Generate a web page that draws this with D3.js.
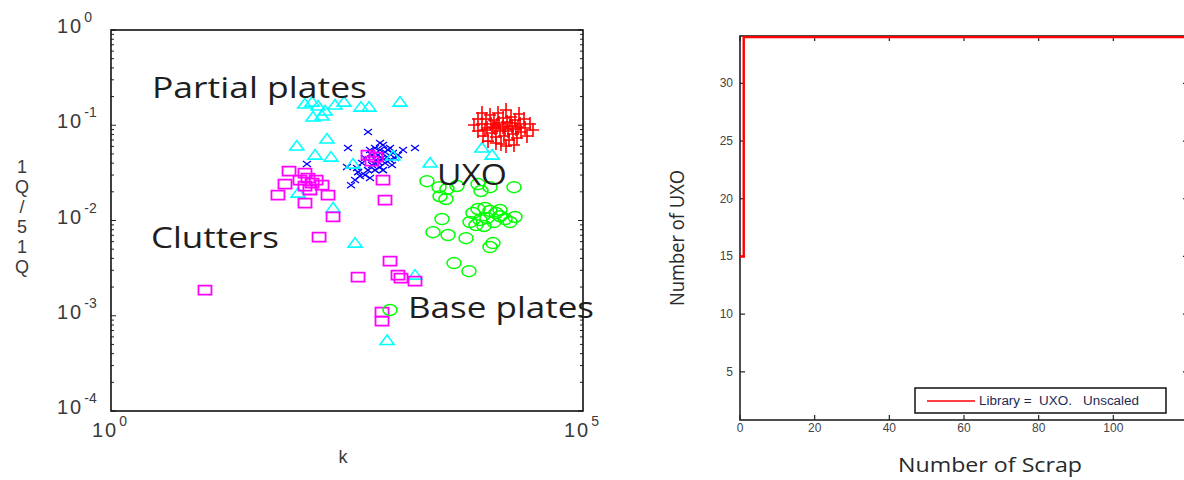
<!DOCTYPE html>
<html>
<head>
<meta charset="utf-8">
<script src="https://cdn.jsdelivr.net/npm/d3@7"></script>
<style>
  body { margin: 0; background: #fff; }
  svg { display: block; }
  text { white-space: pre; }
</style>
</head>
<body>
<svg id="chart" width="1184" height="480"></svg>
<script>
// ---------- left panel: decay rate k vs. Q ratio, one array of [k, Q] per class ----------
const partialPlates = [
  [113, 0.167], [135, 0.175], [156, 0.159], [185, 0.141], [138, 0.122], [172, 0.125],
  [236, 0.163], [294, 0.175], [445, 0.155], [541, 0.155], [1152, 0.175], [93, 0.0605],
  [194, 0.0716], [145, 0.0486], [214, 0.0463], [366, 0.0391], [971, 0.0475], [2400, 0.0401],
  [8500, 0.0576], [10900, 0.0486], [96, 0.0194], [225, 0.0135], [385, 0.00579],
  [1660, 0.00267], [840, 0.00055]
];
const crossClass = [
  [528, 0.0849], [324, 0.0576], [119, 0.0391], [316, 0.0364], [385, 0.0266], [349, 0.0235],
  [1660, 0.0576], [1240, 0.0549], [903, 0.0576], [707, 0.065], [434, 0.0293], [414, 0.0322],
  [491, 0.0452], [554, 0.0549], [582, 0.0382], [626, 0.0576], [626, 0.0338], [673, 0.0486],
  [673, 0.0411], [707, 0.0549], [707, 0.0364], [743, 0.0452], [761, 0.062], [799, 0.0523],
  [799, 0.0401], [839, 0.0463], [903, 0.0431], [971, 0.0511], [1020, 0.0452], [1097, 0.0486],
  [528, 0.0338], [456, 0.0401], [582, 0.0486], [641, 0.0431], [761, 0.0338], [859, 0.0549],
  [491, 0.03], [403, 0.0355], [948, 0.0382], [554, 0.0279]
];
const clutters = [
  [9.9, 0.00186], [58.7, 0.0185], [69.7, 0.0241], [76.9, 0.033], [113.5, 0.0315], [100.5, 0.0266],
  [122, 0.0279], [135, 0.0247], [113.5, 0.023], [149, 0.0266], [128, 0.0209], [172, 0.0235],
  [199, 0.0185], [113.5, 0.0152], [225, 0.0109], [160, 0.0067], [528, 0.0486], [582, 0.0421],
  [641, 0.0463], [761, 0.0266], [799, 0.0164], [903, 0.00375], [414, 0.00254], [1097, 0.00267],
  [1180, 0.00248], [1661, 0.00231], [743, 0.00109], [743, 0.000877]
];
const uxoPlus = [
  [7000, 0.1005], [7720, 0.1162], [7720, 0.0869], [8510, 0.1343], [8510, 0.103], [8730, 0.077],
  [9380, 0.1162], [9620, 0.0935], [9860, 0.0682], [10350, 0.128], [10600, 0.103], [10860, 0.0828],
  [11410, 0.1134], [11690, 0.0935], [11970, 0.0752], [12580, 0.1343], [12880, 0.1055], [13210, 0.0869],
  [13530, 0.0635], [14220, 0.1191], [14220, 0.0957], [14560, 0.077], [15290, 0.1445], [15670, 0.108],
  [16060, 0.0869], [16450, 0.0699], [17270, 0.122], [17700, 0.0981], [18130, 0.0808], [19040, 0.1134],
  [19500, 0.0912], [19990, 0.0734], [20990, 0.1312], [21520, 0.103], [22050, 0.0849], [23710, 0.1162],
  [24300, 0.0935], [25510, 0.077], [27460, 0.103], [29530, 0.089], [18580, 0.062], [15290, 0.0605],
  [11970, 0.065], [9160, 0.089], [12270, 0.1005], [16860, 0.1055], [20490, 0.0957], [14930, 0.0912],
  [11130, 0.0957]
];
const uxoCircle = [
  [2225, 0.0259], [2983, 0.0224], [3625, 0.0214], [4625, 0.023], [3057, 0.018], [3537, 0.0168],
  [7720, 0.0241], [8305, 0.0204], [10350, 0.0224], [18580, 0.0224], [3208, 0.01035], [2576, 0.00755],
  [3715, 0.00703], [5765, 0.00653], [11130, 0.00579], [10350, 0.00526], [4299, 0.00357], [6197, 0.00294],
  [903, 0.00115], [6834, 0.012], [7720, 0.0132], [9160, 0.0135], [10350, 0.0126], [11970, 0.012],
  [13210, 0.0111], [14930, 0.01035], [16860, 0.00962], [8110, 0.0101], [9620, 0.0106], [11410, 0.00962],
  [7360, 0.00895], [13210, 0.0129], [8940, 0.00874], [19040, 0.0109], [6350, 0.00962]
];
const yDecades = [1, 0.1, 0.01, 0.001, 0.0001];
const yExponents = ["0", "-1", "-2", "-3", "-4"];
const xDecades = [1, 100000];
const xExponents = ["0", "5"];
const yLabelChars = ["1", "Q", "/", "5", "1", "Q"];
const annotations = [
  { text: "Partial plates", k: 2.72, q: 0.193 },
  { text: "Clutters", k: 2.65, q: 0.00514 },
  { text: "UXO", k: 2840, q: 0.0236 },
  { text: "Base plates", k: 1400, q: 0.00095 }
];

// ---------- right panel: detection curve ----------
const scrapCount = [0, 1, 120];
const uxoFound = [15, 34, 34];
const scrapTicks = [0, 20, 40, 60, 80, 100];
const uxoTicks = [5, 10, 15, 20, 25, 30];
const legendLabel = "Library =  UXO.   Unscaled";

const svg = d3.select("#chart");

// ===== left panel =====
const L = { left: 111, right: 583, top: 30, bottom: 411 };
const x = d3.scaleLog().domain([1, 1e5]).range([L.left, L.right]);
const y = d3.scaleLog().domain([1e-4, 1]).range([L.bottom, L.top]);

const left = svg.append("g");

// minor and major ticks on both vertical edges, pointing inward
const yTickVals = [];
for (let e = -4; e < 0; e++) for (let m = 1; m <= 9; m++) yTickVals.push(m * Math.pow(10, e));
yTickVals.push(1);
const isDecade = d => Math.abs(Math.log10(d) - Math.round(Math.log10(d))) < 1e-9;
left.append("g").selectAll("line").data(yTickVals).join("line")
  .attr("x1", L.left).attr("x2", d => L.left + (isDecade(d) ? 5 : 3))
  .attr("y1", d => y(d)).attr("y2", d => y(d))
  .attr("stroke", "#222").attr("stroke-width", 1);
left.append("g").selectAll("line").data(yTickVals).join("line")
  .attr("x1", L.right).attr("x2", d => L.right - (isDecade(d) ? 5 : 3))
  .attr("y1", d => y(d)).attr("y2", d => y(d))
  .attr("stroke", "#222").attr("stroke-width", 1);

// frame
left.append("rect")
  .attr("x", L.left).attr("y", L.top)
  .attr("width", L.right - L.left).attr("height", L.bottom - L.top)
  .attr("fill", "none").attr("stroke", "#111").attr("stroke-width", 1.6);

// y tick labels 10^n
const yLab = left.append("g").selectAll("text").data(yDecades).join("text")
  .attr("x", 57).attr("y", d => y(d) + 3)
  .attr("font-family", "Liberation Sans, Arial, sans-serif")
  .attr("font-size", 20).attr("fill", "#3a3a3a");
yLab.append("tspan").attr("letter-spacing", 2).text("10");
yLab.append("tspan").attr("dx", 1).attr("dy", -11).attr("font-size", 14)
  .text((d, i) => yExponents[i]);

// x tick labels 10^n
const xLab = left.append("g").selectAll("text").data(xDecades).join("text")
  .attr("x", d => x(d) - 19).attr("y", 437)
  .attr("font-family", "Liberation Sans, Arial, sans-serif")
  .attr("font-size", 20).attr("fill", "#3a3a3a");
xLab.append("tspan").attr("letter-spacing", 2).text("10");
xLab.append("tspan").attr("dx", 1).attr("dy", -11).attr("font-size", 14)
  .text((d, i) => xExponents[i]);

// axis titles
left.append("text").attr("x", 343).attr("y", 463).attr("text-anchor", "middle")
  .attr("font-family", "Liberation Sans, Arial, sans-serif").attr("font-size", 18)
  .attr("fill", "#3a3a3a").text("k");
left.append("g").selectAll("text").data(yLabelChars).join("text")
  .attr("x", 22).attr("y", (d, i) => 173 + i * 20).attr("text-anchor", "middle")
  .attr("font-family", "Liberation Sans, Arial, sans-serif").attr("font-size", 18)
  .attr("fill", "#3a3a3a").text(d => d);

// marker shapes (slightly wide, as plotted)
const markers = {
  triangle: "M0,-5.5L7,4L-7,4Z",
  square: "M-6.5,-4.5H6.5V4.5H-6.5Z",
  plus: "M-6,0H6M0,-7V7",
  cross: "M-4,-3L4,3M-4,3L4,-3",
  circle: "M-7,0A7,5.5 0 1,0 7,0A7,5.5 0 1,0 -7,0Z"
};
const series = [
  { data: crossClass, shape: "cross", color: "#0000ff", w: 1.3 },
  { data: partialPlates, shape: "triangle", color: "#00ffff", w: 1.6 },
  { data: clutters, shape: "square", color: "#ff00ff", w: 1.8 },
  { data: uxoPlus, shape: "plus", color: "#ff0000", w: 1.6 },
  { data: uxoCircle, shape: "circle", color: "#00ff00", w: 1.5 }
];
series.forEach(s => {
  left.append("g").selectAll("path").data(s.data).join("path")
    .attr("d", markers[s.shape])
    .attr("transform", d => `translate(${x(d[0])},${y(d[1])})`)
    .attr("fill", "none").attr("stroke", s.color).attr("stroke-width", s.w);
});

// class annotations
const annoWidths = { "Partial plates": 215, "Clutters": 128, "UXO": 70, "Base plates": 186 };
left.append("g").selectAll("text").data(annotations).join("text")
  .attr("x", d => x(d.k)).attr("y", d => y(d.q))
  .attr("font-family", "Open Sans, Noto Sans, sans-serif").attr("font-size", 30)
  .attr("fill", "#1e1e1e")
  .attr("textLength", d => annoWidths[d.text]).attr("lengthAdjust", "spacingAndGlyphs")
  .text(d => d.text);

// ===== right panel =====
const R = { left: 740, right: 1188, top: 36, bottom: 420 };
const x2 = d3.scaleLinear().domain([0, 120]).range([R.left, R.right]);
const y2 = d3.scaleLinear().domain([0.83, 34.1]).range([R.bottom, R.top]);
const right = svg.append("g");

// inward ticks on all four sides
right.append("g").selectAll("line").data(scrapTicks).join("line")
  .attr("x1", d => x2(d)).attr("x2", d => x2(d)).attr("y1", R.bottom).attr("y2", R.bottom - 5)
  .attr("stroke", "#222").attr("stroke-width", 1.2);
right.append("g").selectAll("line").data(scrapTicks).join("line")
  .attr("x1", d => x2(d)).attr("x2", d => x2(d)).attr("y1", R.top).attr("y2", R.top + 5)
  .attr("stroke", "#222").attr("stroke-width", 1.2);
right.append("g").selectAll("line").data(uxoTicks).join("line")
  .attr("x1", R.left).attr("x2", R.left + 5).attr("y1", d => y2(d)).attr("y2", d => y2(d))
  .attr("stroke", "#222").attr("stroke-width", 1.2);
right.append("g").selectAll("line").data(uxoTicks).join("line")
  .attr("x1", R.right).attr("x2", R.right - 5).attr("y1", d => y2(d)).attr("y2", d => y2(d))
  .attr("stroke", "#222").attr("stroke-width", 1.2);

right.append("rect")
  .attr("x", R.left).attr("y", R.top)
  .attr("width", R.right - R.left).attr("height", R.bottom - R.top)
  .attr("fill", "none").attr("stroke", "#222").attr("stroke-width", 1.6);

// tick labels
right.append("g").selectAll("text").data(scrapTicks).join("text")
  .attr("x", d => x2(d)).attr("y", 432).attr("text-anchor", "middle")
  .attr("font-family", "Liberation Sans Narrow, Liberation Sans, sans-serif").attr("font-size", 12)
  .attr("fill", "#444").text(d => d);
right.append("g").selectAll("text").data(uxoTicks).join("text")
  .attr("x", 733).attr("y", d => y2(d) + 4).attr("text-anchor", "end")
  .attr("font-family", "Liberation Sans Narrow, Liberation Sans, sans-serif").attr("font-size", 12)
  .attr("fill", "#444").text(d => d);

// detection curve
const line = d3.line().x((d, i) => x2(scrapCount[i])).y(d => y2(d)).curve(d3.curveStepAfter);
right.append("path").datum(uxoFound).attr("d", line)
  .attr("fill", "none").attr("stroke", "#ff0000").attr("stroke-width", 2.4);

// axis titles
right.append("text").attr("x", 990).attr("y", 472).attr("text-anchor", "middle")
  .attr("font-family", "Open Sans, Noto Sans, sans-serif").attr("font-size", 20).attr("fill", "#2a2a2a")
  .attr("textLength", 184).attr("lengthAdjust", "spacingAndGlyphs")
  .text("Number of Scrap");
right.append("text").attr("transform", "translate(684,238) rotate(-90)").attr("text-anchor", "middle")
  .attr("font-family", "Open Sans, Noto Sans, sans-serif").attr("font-size", 20).attr("fill", "#2a2a2a")
  .attr("textLength", 136).attr("lengthAdjust", "spacingAndGlyphs")
  .text("Number of UXO");

// legend
const lg = right.append("g");
lg.append("rect").attr("x", 915).attr("y", 388).attr("width", 251).attr("height", 25)
  .attr("fill", "#fff").attr("stroke", "#111").attr("stroke-width", 1.5);
lg.append("line").attr("x1", 927).attr("x2", 975).attr("y1", 401).attr("y2", 401)
  .attr("stroke", "#ff0000").attr("stroke-width", 1.5);
lg.append("text").attr("x", 979).attr("y", 405)
  .attr("font-family", "Liberation Sans Narrow, Liberation Sans, sans-serif").attr("font-size", 12)
  .attr("fill", "#1c2a55").attr("textLength", 160).attr("lengthAdjust", "spacingAndGlyphs")
  .text(legendLabel);
</script>
</body>
</html>
